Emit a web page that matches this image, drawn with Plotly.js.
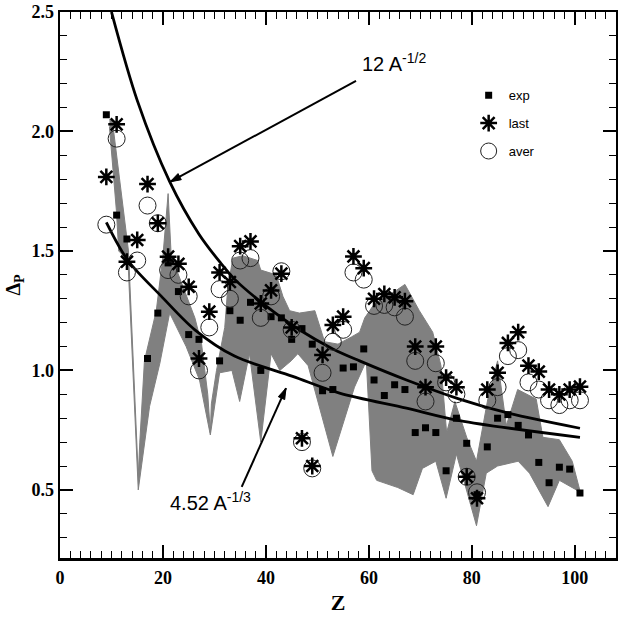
<!DOCTYPE html>
<html><head><meta charset="utf-8">
<script src="https://cdn.plot.ly/plotly-3.0.1.min.js"></script>
<style>body{margin:0;padding:0;background:#fff}#chart{width:618px;height:622px}</style>
</head><body><div id="chart"></div>
<script>
// proton number (odd Z)
const Z = [9,11,13,15,17,19,21,23,25,27,29,31,33,35,37,39,41,43,45,47,49,51,53,55,57,59,61,63,65,67,69,71,73,75,77,79,81,83,85,87,89,91,93,95,97,99,101];
const expVals  = [2.07,1.65,1.55,null,1.05,1.24,1.45,1.33,1.15,1.13,null,1.04,1.25,1.21,1.285,1.00,1.225,1.22,1.13,1.175,1.11,0.915,0.92,1.01,1.015,1.09,0.96,0.895,0.94,0.92,0.74,0.76,0.74,0.58,0.80,0.695,0.48,0.68,0.80,0.815,0.77,0.73,0.615,0.53,0.595,0.587,0.487];
const lastVals = [1.81,2.03,1.455,1.546,1.78,1.616,1.476,1.446,1.35,1.05,1.246,1.41,1.37,1.52,1.54,1.28,1.335,1.405,1.18,0.716,0.60,1.065,1.19,1.225,1.477,1.428,1.30,1.32,1.306,1.29,1.10,0.93,1.10,0.97,0.93,0.555,0.465,0.92,0.99,1.115,1.16,1.02,0.995,0.92,0.90,0.92,0.932];
const averVals = [1.61,1.97,1.41,1.46,1.69,1.616,1.42,1.40,1.31,1.00,1.18,1.34,1.30,1.46,1.47,1.22,1.31,1.415,1.17,0.70,0.59,0.99,1.12,1.17,1.41,1.38,1.27,1.274,1.264,1.225,1.04,0.87,1.03,0.95,0.90,0.555,0.49,0.875,0.93,1.06,1.085,0.95,0.92,0.875,0.855,0.875,0.875];

// grey band: upper and lower edges
const bandUpperZ = [9.6,10.2,13.3,15.2,15.5,16.4,18.7,20.0,21.0,21.6,23.9,26.2,27.5,28.7,29.2,29.4,30.4,32.0,32.6,33.6,35.5,38.4,39.0,42.0,43.3,44.6,46.5,49.5,51.4,54.0,56.6,58.2,59.2,61.1,64.3,67.0,69.8,72.4,74.0,75.1,76.7,79.0,80.9,83.1,85.0,86.7,88.9,92.5,93.8,97.0,99.5,101.2];
const bandUpperV = [2.05,2.04,1.50,0.56,0.70,1.04,1.25,1.48,1.74,1.48,1.35,1.22,1.11,0.90,0.74,0.86,1.00,1.18,1.35,1.47,1.48,1.46,1.42,1.40,1.31,1.25,1.24,1.25,1.12,1.11,1.14,1.16,1.22,1.28,1.32,1.36,1.25,1.16,1.02,0.74,0.87,0.72,0.62,0.88,1.04,0.77,0.92,0.88,0.72,0.71,0.62,0.49];
const bandLowerZ = [9.6,10.95,11.4,13.2,15.2,17.4,19.4,21.3,24.5,27.1,29.2,31.0,33.4,34.9,36.8,39.0,41.0,42.7,44.9,46.2,48.2,53.0,57.2,59.5,60.6,61.5,65.6,68.6,70.4,73.0,75.0,77.0,80.9,82.8,85.0,89.0,91.2,94.8,97.0,100.3,101.2];
const bandLowerV = [2.02,1.67,1.50,1.46,0.50,0.85,1.03,1.24,1.10,0.96,0.73,0.99,1.00,0.87,1.07,0.70,1.07,1.00,1.04,1.07,1.02,0.64,0.93,1.04,0.58,0.54,0.51,0.48,0.59,0.62,0.465,0.65,0.35,0.57,0.60,0.62,0.57,0.43,0.54,0.50,0.48];

// reference curves
const curveHalfZ = [10,15,21.3,27,31,34,40,46.5,53,58.2,67.3,77.6,87.3,101];
const curveHalfV = [2.50,2.13,1.79,1.57,1.455,1.38,1.27,1.17,1.09,1.04,0.96,0.88,0.82,0.758];
const curveThirdZ = [9,13.2,19.7,26.2,33.9,45.2,54.3,67.3,77.6,101];
const curveThirdV = [1.62,1.46,1.31,1.17,1.06,0.975,0.905,0.842,0.79,0.72];

const bandX = bandUpperZ.concat(bandLowerZ.slice().reverse());
const bandY = bandUpperV.concat(bandLowerV.slice().reverse());

const traces = [
  {x: bandX, y: bandY, type:'scatter', mode:'lines', fill:'toself', fillcolor:'rgb(128,128,128)',
   line:{color:'rgb(128,128,128)', width:1}, showlegend:false, hoverinfo:'skip'},
  {x: curveHalfZ, y: curveHalfV, type:'scatter', mode:'lines', line:{color:'black', width:2.8, shape:'spline', smoothing:0.9}, showlegend:false},
  {x: curveThirdZ, y: curveThirdV, type:'scatter', mode:'lines', line:{color:'black', width:2.8, shape:'spline', smoothing:0.9}, showlegend:false},
  {x: Z, y: expVals, type:'scatter', mode:'markers', name:'exp', legendgroup:'g1', legendrank:1,
   marker:{symbol:'square', size:7, color:'black'}},
  {x: Z, y: averVals, type:'scatter', mode:'markers', name:'aver', legendgroup:'g3', legendrank:3,
   marker:{symbol:'circle-open', size:17, color:'#222', line:{width:1, color:'#222'}}},
  {x: Z, y: lastVals, type:'scatter', mode:'markers', name:'last', legendgroup:'g2', legendrank:2,
   marker:{symbol:'asterisk-open', size:14, color:'black', line:{width:2.5, color:'black'}}}
];

const tickFont = {family:'Liberation Serif, Times New Roman, serif', size:18, color:'black', weight:'bold'};
const annFont = {family:'Liberation Sans, Arial, sans-serif', size:20, color:'black'};
const layout = {
  width:618, height:622,
  margin:{l:60, r:2, t:12, b:64},
  paper_bgcolor:'white', plot_bgcolor:'white',
  showlegend:true,
  legend:{x:0.735, y:0.875, xanchor:'left', yanchor:'top', traceorder:'grouped', tracegroupgap:8,
          font:{family:'Liberation Sans, Arial, sans-serif', size:13, color:'black'}, bgcolor:'rgba(0,0,0,0)',
          itemsizing:'trace', valign:'middle'},
  xaxis:{range:[0,108], showline:true, linecolor:'black', linewidth:2.5, mirror:'allticks',
         ticks:'inside', ticklen:13, tickwidth:2, tickcolor:'black', tick0:0, dtick:20,
         minor:{dtick:2, ticks:'inside', ticklen:7, tickwidth:1, tickcolor:'black'},
         showgrid:false, zeroline:false, tickfont:tickFont, ticklabelstandoff:2,
         title:{text:'Z', font:{family:'Liberation Serif, Times New Roman, serif', size:22, color:'black', weight:'bold'}, standoff:8}},
  yaxis:{range:[0.215,2.5], showline:true, linecolor:'black', linewidth:2.5, mirror:'allticks',
         ticks:'inside', ticklen:13, tickwidth:2, tickcolor:'black', tick0:0, dtick:0.5, tickformat:'.1f',
         minor:{dtick:0.1, ticks:'inside', ticklen:7, tickwidth:1, tickcolor:'black'},
         showgrid:false, zeroline:false, tickfont:tickFont,
         title:{text:'Δ<sub>P</sub>', font:{family:'Liberation Serif, Times New Roman, serif', size:20, color:'black', weight:'bold'}, standoff:6}},
  annotations:[
    {x:58.2, y:2.29, xref:'x', yref:'y', xanchor:'left', yanchor:'middle', showarrow:false,
     text:'12 A<sup>-1/2</sup>', font:annFont},
    {x:20.9, y:0.45, xref:'x', yref:'y', xanchor:'left', yanchor:'middle', showarrow:false,
     text:'4.52 A<sup>-1/3</sup>', font:annFont}
  ],
  shapes:[
    {type:'line', xref:'x', yref:'y', xsizemode:'pixel', ysizemode:'pixel', xanchor:21.37, yanchor:1.789,
     x0:0, y0:0, x1:186, y1:101, line:{color:'black', width:2}},
    {type:'path', xref:'x', yref:'y', xsizemode:'pixel', ysizemode:'pixel', xanchor:21.37, yanchor:1.789,
     path:'M0,0 L11.3,2.2 L8.0,8.3 Z', fillcolor:'black', line:{color:'black', width:1}},
    {type:'line', xref:'x', yref:'y', xsizemode:'pixel', ysizemode:'pixel', xanchor:43.9, yanchor:0.926,
     x0:0, y0:0, x1:-44.3, y1:-98.7, line:{color:'black', width:2}},
    {type:'path', xref:'x', yref:'y', xsizemode:'pixel', ysizemode:'pixel', xanchor:43.9, yanchor:0.926,
     path:'M0,0 L-1.3,-11.5 L-7.7,-8.6 Z', fillcolor:'black', line:{color:'black', width:1}}
  ]
};
Plotly.newPlot('chart', traces, layout, {displayModeBar:false, staticPlot:true});
</script></body></html>
